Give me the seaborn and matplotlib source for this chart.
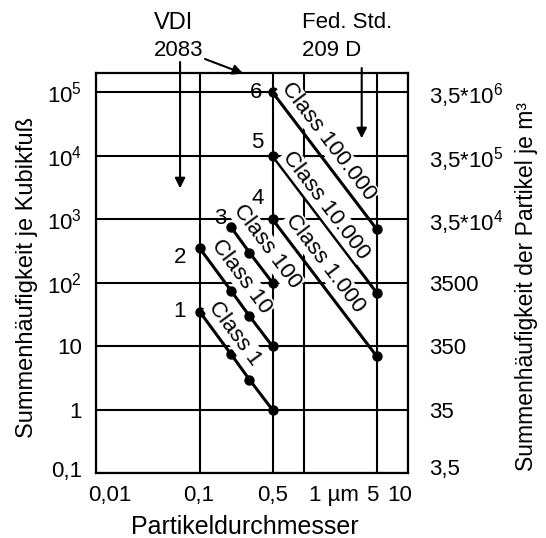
import numpy as np
import pandas as pd
import matplotlib
matplotlib.use("Agg")
import matplotlib.pyplot as plt
import matplotlib.transforms as mtransforms
import seaborn as sns

# ---------------- data ----------------
class_names = ["Class 1", "Class 10", "Class 100", "Class 1.000", "Class 10.000", "Class 100.000"]
class_1_x = [0.1, 0.2, 0.3, 0.5]
class_1_y = [35, 7.5, 3, 1]
class_10_x = [0.1, 0.2, 0.3, 0.5]
class_10_y = [350, 75, 30, 10]
class_100_x = [0.2, 0.3, 0.5]
class_100_y = [750, 300, 100]
class_1000_x = [0.5, 5]
class_1000_y = [1000, 7]
class_10000_x = [0.5, 5]
class_10000_y = [10000, 70]
class_100000_x = [0.5, 5]
class_100000_y = [100000, 700]
point_numbers = ["1", "2", "3", "4", "5", "6"]

x_ticks = [0.01, 0.1, 0.5, 1, 5, 10]
x_tick_labels = ["0,01", "0,1", "0,5", "1 µm", "5", "10"]
y_ticks = [0.1, 1, 10, 100, 1000, 1e4, 1e5]
y_tick_labels_left = ["0,1", "1", "10", r"$\mathregular{10^2}$", r"$\mathregular{10^3}$",
                      r"$\mathregular{10^4}$", r"$\mathregular{10^5}$"]
y_tick_labels_right = ["3,5", "35", "350", "3500", r"3,5*$\mathregular{10^4}$",
                       r"3,5*$\mathregular{10^5}$", r"3,5*$\mathregular{10^6}$"]

# ---------------- style ----------------
sns.set_theme(style="white")
plt.rcParams["font.family"] = ["Liberation Sans", "DejaVu Sans"]
plt.rcParams["mathtext.default"] = "regular"
FS = 16

fig = plt.figure(figsize=(5.46, 5.38), dpi=100)
ax = fig.add_axes([0.1753, 0.1199, 0.572, 0.7435])
ax.set_xscale("log")
ax.set_yscale("log")
ax.set_xlim(0.01, 10)
ax.set_ylim(0.1, 1.98e5)

series = [(class_1_x, class_1_y), (class_10_x, class_10_y), (class_100_x, class_100_y),
          (class_1000_x, class_1000_y), (class_10000_x, class_10000_y),
          (class_100000_x, class_100000_y)]
for xs, ys in series:
    sns.lineplot(x=xs, y=ys, ax=ax, color="black", lw=2.2, marker="o", markersize=7.5,
                 markeredgewidth=0, sort=False, estimator=None, zorder=3)

# grid / spines
ax.set_xticks(x_ticks)
ax.set_yticks(y_ticks)
ax.minorticks_off()
ax.grid(True, color="black", lw=1.5, zorder=0)
ax.set_axisbelow(True)
for s in ax.spines.values():
    s.set_color("black")
    s.set_linewidth(1.6)
ax.tick_params(length=0, labelsize=FS, colors="black")
ax.tick_params(axis="x", pad=8)
ax.tick_params(axis="y", pad=10)
ax.set_xticklabels(x_tick_labels)
ax.set_yticklabels(y_tick_labels_left)

x_offsets_px = [14, -1, 0, 30, -4, -8]
for lab, dx in zip(ax.get_xticklabels(), x_offsets_px):
    lab.set_transform(lab.get_transform() + mtransforms.ScaledTranslation(dx / 100, 0, fig.dpi_scale_trans))
l_offsets_px = [4, 0, 0, 0, 0, 0, 0]
for lab, dy in zip(ax.get_yticklabels(), l_offsets_px):
    lab.set_transform(lab.get_transform() + mtransforms.ScaledTranslation(0, dy / 100, fig.dpi_scale_trans))

ax2 = ax.twinx()
ax2.set_yscale("log")
ax2.set_ylim(ax.get_ylim())
ax2.set_yticks(y_ticks)
ax2.minorticks_off()
ax2.set_yticklabels(y_tick_labels_right)
ax2.tick_params(length=0, labelsize=FS, pad=15, colors="black")
ax2.grid(False)
for s in ax2.spines.values():
    s.set_visible(False)
r_offsets_px = [6, 0, 0, 0, 0, 0, 0]
for lab, dy in zip(ax2.get_yticklabels(), r_offsets_px):
    lab.set_transform(lab.get_transform() + mtransforms.ScaledTranslation(0, dy / 100, fig.dpi_scale_trans))

ax.set_xlabel("Partikeldurchmesser", fontsize=18, color="black")
ax.xaxis.set_label_coords(0.478, -0.105)
ax.set_ylabel("Summenhäufigkeit je Kubikfuß", fontsize=17, color="black")
ax.yaxis.set_label_coords(-0.185, 0.49)
ax2.set_ylabel("Summenhäufigkeit der Partikel je m³", fontsize=16.5, color="black")
ax2.yaxis.set_label_coords(1.343, 0.4675)

# point numbers
num_points = [(0.1, 35), (0.1, 350), (0.2, 750), (0.5, 1000), (0.5, 1e4), (0.5, 1e5)]
num_offsets = [(-20, 0), (-20, -9), (-11, 9), (-15, 21), (-15, 13), (-17, 0)]
for t, p, off in zip(point_numbers, num_points, num_offsets):
    ax.annotate(t, xy=p, xytext=off, textcoords="offset pixels", ha="center", va="center",
                fontsize=FS, color="black", zorder=5)

# class labels along the lines
label_pos = [(0.218, 16.0), (0.2526, 124.7), (0.439, 370), (1.595, 203), (1.62, 1679), (1.715, 16670)]
for name, (xs, ys), pos in zip(class_names, series, label_pos):
    p0 = ax.transData.transform((xs[0], ys[0]))
    p1 = ax.transData.transform((xs[-1], ys[-1]))
    ang = np.degrees(np.arctan2(p1[1] - p0[1], p1[0] - p0[0]))
    ax.text(pos[0], pos[1], name, rotation=ang, rotation_mode="anchor", ha="center", va="center",
            fontsize=FS, color="black", zorder=4,
            bbox=dict(boxstyle="square,pad=0.05", fc="white", ec="none"))

# header texts and arrows
fig.text(154 / 546, 1 - 23 / 538, "VDI", fontsize=17, ha="left", va="center", color="black")
fig.text(154 / 546, 1 - 51 / 538, "2083", fontsize=FS, ha="left", va="center", color="black")
fig.text(302 / 546, 1 - 23 / 538, "Fed. Std.", fontsize=FS, ha="left", va="center", color="black")
fig.text(302 / 546, 1 - 51 / 538, "209 D", fontsize=FS, ha="left", va="center", color="black")

arrow = dict(arrowstyle="-|>", color="black", lw=1.5, mutation_scale=15, shrinkA=0, shrinkB=0)
ax.annotate("", xy=(0.0646, 3078), xytext=(0.0646, 538 - 62), textcoords=("data", "figure pixels"),
            arrowprops=arrow, annotation_clip=False)
ax.annotate("", xy=(3.59, 18870), xytext=(3.59, 538 - 68), textcoords=("data", "figure pixels"),
            arrowprops=arrow, annotation_clip=False)
ax.annotate("", xy=(0.261, 1.98e5), xytext=(205, 538 - 59), textcoords="figure pixels",
            arrowprops=arrow, annotation_clip=False)

fig.savefig("out.png", dpi=100)
